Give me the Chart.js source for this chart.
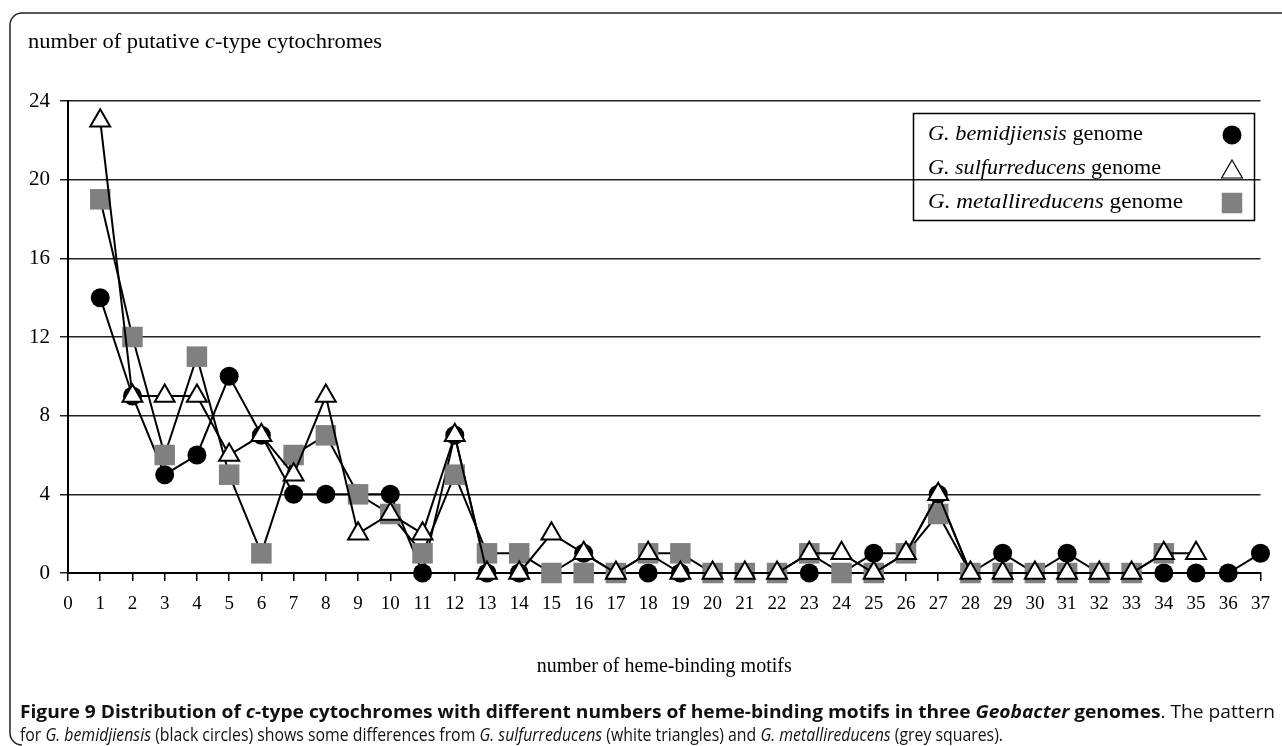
<!DOCTYPE html>
<html>
<head>
<meta charset="utf-8">
<script src="https://cdn.jsdelivr.net/npm/chart.js@4.4.0/dist/chart.umd.min.js"></script>
<style>
html, body { margin: 0; padding: 0; background: #fff; }
#wrap { width: 1282px; height: 746px; }
</style>
</head>
<body>
<div id="wrap"><canvas id="chart" width="1282" height="746"></canvas></div>
<script>
// number of heme-binding motifs (x)
var motifs = [1, 2, 3, 4, 5, 6, 7, 8, 9, 10, 11, 12, 13, 14, 15, 16, 17, 18, 19,
    20, 21, 22, 23, 24, 25, 26, 27, 28, 29, 30, 31, 32, 33, 34, 35, 36, 37];
// putative c-type cytochromes per genome
var bemidjiensis = [14, 9, 5, 6, 10, 7, 4, 4, 4, 4, 0, 7, 0, 0, 0, 1, 0, 0, 0,
    0, 0, 0, 0, 0, 1, 1, 4, 0, 1, 0, 1, 0, 0, 0, 0, 0, 1];
var sulfurreducens = [23, 9, 9, 9, 6, 7, 5, 9, 2, 3, 2, 7, 0, 0, 2, 1, 0, 1, 0,
    0, 0, 0, 1, 1, 0, 1, 4, 0, 0, 0, 0, 0, 0, 1, 1, null, null];
var metallireducens = [19, 12, 6, 11, 5, 1, 6, 7, 4, 3, 1, 5, 1, 1, 0, 0, 0, 1, 1,
    0, 0, 0, 1, 0, 0, 1, 3, 0, 0, 0, 0, 0, 0, 1, null, null, null];
var yMin = 0, yMax = 24, yStep = 4;
var xMin = 0, xMax = 37;

function points(values) {
    return motifs.map(function (m, i) { return { x: m, y: values[i] }; });
}

var SERIF = '"Liberation Serif", "Times New Roman", serif';
var SANS = '"Open Sans", "Noto Sans", sans-serif';

// draws a list of [font, text] runs one after another, squeezed/stretched to width w
function runs(ctx, list, x, y, w) {
    var total = 0;
    list.forEach(function (r) { ctx.font = r[0]; total += ctx.measureText(r[1]).width; });
    var sx = w ? w / total : 1;
    ctx.save();
    ctx.translate(x, y);
    ctx.scale(sx, 1);
    var cx = 0;
    list.forEach(function (r) {
        ctx.font = r[0];
        ctx.fillText(r[1], cx, 0);
        cx += ctx.measureText(r[1]).width;
    });
    ctx.restore();
}

var frame = {
    id: 'frame',
    beforeDraw: function (chart) {
        var ctx = chart.ctx;
        ctx.save();
        ctx.fillStyle = '#fff';
        ctx.fillRect(0, 0, chart.width, chart.height);
        ctx.strokeStyle = '#222';
        ctx.lineWidth = 1.5;
        ctx.beginPath();
        ctx.moveTo(1290, 13);
        ctx.lineTo(22, 13);
        ctx.arcTo(10, 13, 10, 25, 12);
        ctx.lineTo(10, 733);
        ctx.arcTo(10, 745, 22, 745, 12);
        ctx.stroke();
        ctx.restore();
    },
    afterDraw: function (chart) {
        var ctx = chart.ctx;
        ctx.save();
        ctx.fillStyle = '#000';
        ctx.textBaseline = 'middle';
        // y axis title
        runs(ctx, [['20px ' + SERIF, 'number of putative '], ['italic 20px ' + SERIF, 'c'],
            ['20px ' + SERIF, '-type cytochromes']], 28, 43, 354);

        // legend
        ctx.strokeStyle = '#000';
        ctx.lineWidth = 1.5;
        ctx.strokeRect(913.5, 113.5, 341, 107);
        var names = ['G. bemidjiensis', 'G. sulfurreducens', 'G. metallireducens'];
        var widths = [215, 233, 255];
        var ly = [135, 169, 203];
        var sets = [2, 0, 1];
        names.forEach(function (n, i) {
            ctx.fillStyle = '#000';
            runs(ctx, [['italic 20px ' + SERIF, n], ['20px ' + SERIF, ' genome']], 928, ly[i], widths[i]);
            var ds = chart.data.datasets[sets[i]];
            ctx.fillStyle = ds.pointBackgroundColor;
            ctx.strokeStyle = ds.pointBorderColor;
            ctx.lineWidth = ds.legendBorder;
            Chart.helpers.drawPoint(ctx, {
                pointStyle: ds.pointStyle, radius: ds.legendRadius,
                borderWidth: ds.legendBorder, rotation: 0
            }, 1232, ly[i] + (ds.pointStyle === 'triangle' ? 3 : 0));
        });

        // caption
        var B = 'bold 18px ' + SANS, BI = 'italic bold 18px ' + SANS;
        var R = '18px ' + SANS, RI = 'italic 18px ' + SANS;
        ctx.fillStyle = '#111';
        runs(ctx, [[B, 'Figure 9 Distribution of '], [BI, 'c'],
            [B, '-type cytochromes with different numbers of heme-binding motifs in three '],
            [BI, 'Geobacter'], [B, ' genomes'], [R, '. The pattern']], 20, 713, 1255);
        runs(ctx, [[R, 'for '], [RI, 'G. bemidjiensis'],
            [R, ' (black circles) shows some differences from '], [RI, 'G. sulfurreducens'],
            [R, ' (white triangles) and '], [RI, 'G. metallireducens'], [R, ' (grey squares).']], 20, 736, 983);
        ctx.restore();
    }
};

new Chart(document.getElementById('chart'), {
    type: 'line',
    data: {
        datasets: [
            {
                label: 'G. sulfurreducens genome',
                data: points(sulfurreducens),
                borderColor: '#000',
                borderWidth: 2,
                pointStyle: 'triangle',
                pointRadius: 11.5,
                pointBackgroundColor: '#fff',
                pointBorderColor: '#000',
                pointBorderWidth: 2,
                legendRadius: 12,
                legendBorder: 1.2,
                clip: false
            },
            {
                label: 'G. metallireducens genome',
                data: points(metallireducens),
                borderColor: '#000',
                borderWidth: 2,
                pointStyle: 'rect',
                pointRadius: 14.5,
                pointBackgroundColor: '#808080',
                pointBorderColor: '#808080',
                pointBorderWidth: 0,
                legendRadius: 14.5,
                legendBorder: 0,
                clip: false
            },
            {
                label: 'G. bemidjiensis genome',
                data: points(bemidjiensis),
                borderColor: '#000',
                borderWidth: 2,
                pointStyle: 'circle',
                pointRadius: 9.5,
                pointBackgroundColor: '#000',
                pointBorderColor: '#000',
                pointBorderWidth: 0,
                legendRadius: 9.5,
                legendBorder: 0,
                clip: false
            }
        ]
    },
    options: {
        responsive: false,
        animation: false,
        layout: { padding: { left: 0, top: 101, right: 16, bottom: 0 } },
        plugins: { legend: { display: false }, tooltip: { enabled: false } },
        elements: { line: { tension: 0 } },
        scales: {
            x: {
                type: 'linear',
                min: xMin,
                max: xMax,
                ticks: {
                    stepSize: 1, autoSkip: false, maxRotation: 0, padding: 12,
                    color: '#000', font: { family: SERIF, size: 19 }
                },
                grid: { drawOnChartArea: false, tickLength: 8, color: '#000', lineWidth: 1.5 },
                border: { color: '#000', width: 2 },
                title: {
                    display: true, text: 'number of heme-binding motifs', color: '#000',
                    font: { family: SERIF, size: 20 }, padding: { top: 0, bottom: 67 }
                },
                afterFit: function (s) { s.height = 173; }
            },
            y: {
                min: yMin,
                max: yMax,
                ticks: {
                    stepSize: yStep, padding: 10, color: '#000',
                    font: { family: SERIF, size: 21 }
                },
                grid: { tickLength: 8, color: '#222', lineWidth: 1.5 },
                border: { color: '#000', width: 2 },
                afterFit: function (s) { s.width = 68; }
            }
        }
    },
    plugins: [frame]
});
</script>
</body>
</html>
